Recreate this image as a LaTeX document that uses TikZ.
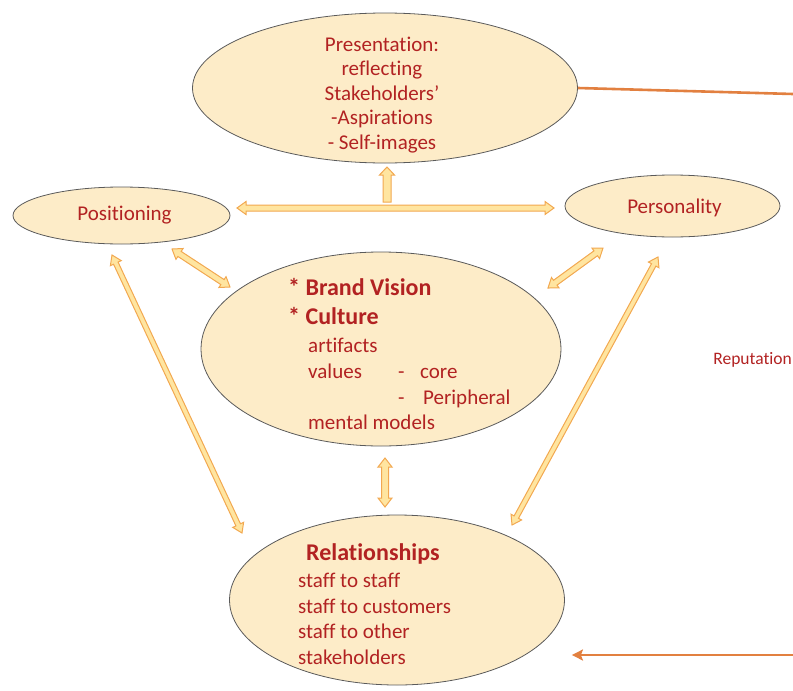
\documentclass[tikz,border=0pt]{standalone}
\usepackage{fontspec}
\setmainfont{Carlito}[Ligatures=NoCommon]
\usetikzlibrary{calc,shapes.geometric,arrows.meta}

\definecolor{ellfill}{RGB}{253,236,200}
\definecolor{ellline}{RGB}{90,90,90}
\definecolor{txtred}{RGB}{178,34,34}
\definecolor{arrfill}{RGB}{255,229,160}
\definecolor{arrline}{RGB}{242,168,80}
\definecolor{linkorange}{RGB}{226,128,64}

% block arrow dimensions: head length, head half-width, shaft half-width
\def\hl{9pt}
\def\hw{6.5pt}
\def\sw{3pt}

% hollow block arrow with a head at both ends
\newcommand{\twoway}[2]{%
  \coordinate (tw1) at ($(#1)!\hl!(#2)$);
  \coordinate (tw2) at ($(#2)!\hl!(#1)$);
  \filldraw[blockarrow] (#1)
    -- ($(tw1)!\hw!90:(#2)$) -- ($(tw1)!\sw!90:(#2)$)
    -- ($(tw2)!\sw!-90:(#1)$) -- ($(tw2)!\hw!-90:(#1)$)
    -- (#2)
    -- ($(tw2)!\hw!90:(#1)$) -- ($(tw2)!\sw!90:(#1)$)
    -- ($(tw1)!\sw!-90:(#2)$) -- ($(tw1)!\hw!-90:(#2)$)
    -- cycle;
}
% hollow block arrow from tail #1 to tip #2
\newcommand{\oneway}[2]{%
  \coordinate (ow) at ($(#2)!\hl!(#1)$);
  \filldraw[blockarrow] ($(#1)!\sw!-90:(#2)$)
    -- ($(ow)!\sw!90:(#1)$) -- ($(ow)!\hw!90:(#1)$)
    -- (#2)
    -- ($(ow)!\hw!-90:(#1)$) -- ($(ow)!\sw!-90:(#1)$)
    -- ($(#1)!\sw!90:(#2)$) -- cycle;
}

\tikzset{
  bubble/.style={ellipse, draw=ellline, line width=0.8pt, fill=ellfill, inner sep=0pt},
  blockarrow/.style={draw=arrline, fill=arrfill, line width=1pt, line join=miter},
  txt/.style={text=txtred, inner sep=0pt, font=\fontsize{21}{24.5}\selectfont},
  head/.style={text=txtred, inner sep=0pt, font=\fontsize{24}{28}\selectfont\bfseries},
  small/.style={text=txtred, inner sep=0pt, font=\fontsize{17.5}{20}\selectfont},
  link/.style={draw=linkorange, line width=2.6pt}
}

\begin{document}
\begin{tikzpicture}[x=1pt, y=-1pt]
\useasboundingbox (0,0) rectangle (793,691);

% ellipses
\node[bubble, minimum width=385pt, minimum height=150pt] (pres) at (385,88) {};
\node[bubble, minimum width=217pt, minimum height=57pt] (pos) at (121.5,215.5) {};
\node[bubble, minimum width=215pt, minimum height=62pt] (pers) at (672.5,206) {};
\node[bubble, minimum width=360pt, minimum height=194pt] (core) at (381,349) {};
\node[bubble, minimum width=335pt, minimum height=170pt] (rel) at (397,600) {};

% texts
\node[txt, align=center, anchor=north] (prestext) at (382,36.5)
  {Presentation:\\reflecting\\Stakeholders’\\-Aspirations\\- Self-images};
\node[txt, anchor=base] (postext) at (124.5,220) {Positioning};
\node[txt, anchor=base] (perstext) at (674.5,213) {Personality};

\node[head, anchor=base west] (vision) at (288,295) {* Brand Vision};
\node[head, anchor=base west] (culture) at (288,324) {* Culture};
\node[txt, anchor=base west] (artifacts) at (308,352) {artifacts};
\node[txt, anchor=base west] (values) at (308,378) {values};
\node[txt, anchor=base west] (dash1) at (398,378) {-};
\node[txt, anchor=base west] (corev) at (420,378) {core};
\node[txt, anchor=base west] (dash2) at (398,404) {-};
\node[txt, anchor=base west] (periph) at (423,404) {Peripheral};
\node[txt, anchor=base west] (mental) at (308,429) {mental models};

\node[head, anchor=base west] (relhead) at (306,560) {Relationships};
\node[txt, anchor=base west] (r1) at (298,587) {staff to staff};
\node[txt, anchor=base west] (r2) at (298,613) {staff to customers};
\node[txt, anchor=base west] (r3) at (298,638) {staff to other};
\node[txt, anchor=base west] (r4) at (298,664) {stakeholders};

\node[small, anchor=base east] (rep) at (792,364) {Reputation};

% block arrow end points
\coordinate (h1) at (237,208);
\coordinate (h2) at (554,208);
\coordinate (u1) at (387,202);
\coordinate (u2) at (387,167);
\coordinate (pc1) at (172,249);
\coordinate (pc2) at (230,287);
\coordinate (qc1) at (603,248);
\coordinate (qc2) at (548,288);
\coordinate (pr1) at (112,255);
\coordinate (pr2) at (242,533);
\coordinate (qr1) at (658,257);
\coordinate (qr2) at (512,525);
\coordinate (cr1) at (385,458);
\coordinate (cr2) at (385,507);

% block arrows
\twoway{h1}{h2}
{\def\sw{4pt}\def\hw{7.5pt}\def\hl{8pt}\oneway{u1}{u2}}
\twoway{pc1}{pc2}
\twoway{qc1}{qc2}
{\def\sw{2.5pt}\def\hw{6pt}\twoway{pr1}{pr2}}
{\def\sw{2.5pt}\def\hw{6pt}\twoway{qr1}{qr2}}
{\def\sw{3.5pt}\def\hw{7pt}\twoway{cr1}{cr2}}

% reputation links running off to the right
\coordinate (rout) at (793,94);
\coordinate (rin) at (793,655);
\draw[link] (pres.east) -- (rout);
\draw[link, -{Stealth[length=11pt,width=11pt,inset=2pt]}, shorten >=7pt] (rin) -- (rin -| rel.east);
\end{tikzpicture}
\end{document}
